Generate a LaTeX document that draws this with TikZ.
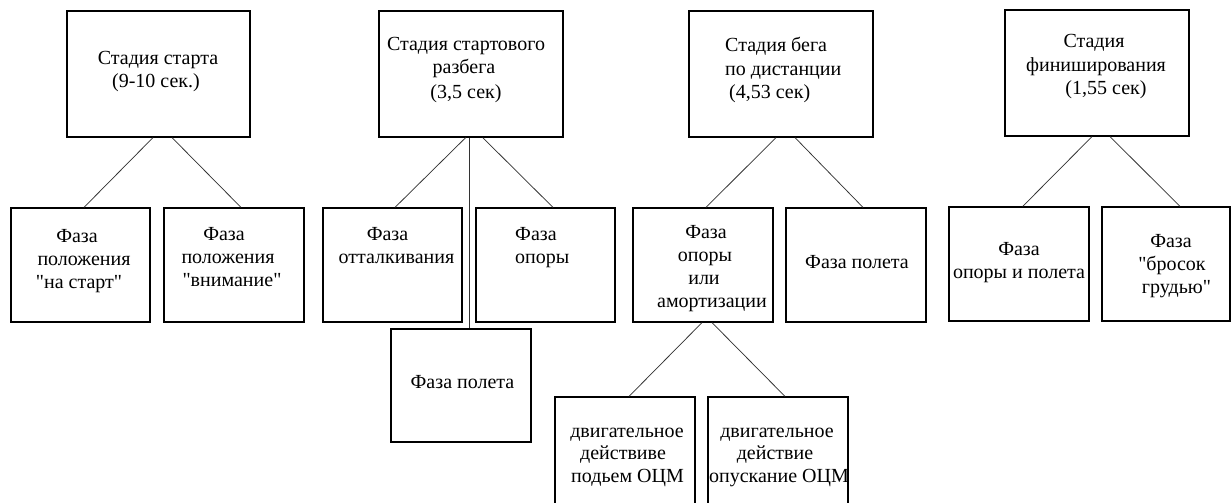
\documentclass[tikz,border=0pt]{standalone}
\usepackage{fontspec}
\setmainfont{Liberation Serif}[Ligatures=TeXOff]
\begin{document}
\begin{tikzpicture}[x=1pt,y=-1pt,
  box/.style={draw=black, line width=1.2pt, inner sep=0pt, fill=none},
  link/.style={draw=black!80, line width=0.75pt},
  txt/.style={anchor=base, inner sep=0pt, text=black,
    font=\fontsize{20}{23}\selectfont},
  txtl/.style={txt, anchor=base west}]
\useasboundingbox (0,0) rectangle (1231,503);
\clip (0,0) rectangle (1231,503);
\fill[white] (0,0) rectangle (1231,503);

% stages
\node[box, minimum width=183pt, minimum height=126pt] (b1) at (158.5,74) {};
\node[box, minimum width=184pt, minimum height=126pt] (b2) at (471,74) {};
\node[box, minimum width=184pt, minimum height=126pt] (b3) at (781,74) {};
\node[box, minimum width=184pt, minimum height=126pt] (b4) at (1097,73) {};

% phases
\node[box, minimum width=139pt, minimum height=114pt] (pA) at (80.5,265) {};
\node[box, minimum width=140pt, minimum height=114pt] (pB) at (234,265) {};
\node[box, minimum width=139pt, minimum height=114pt] (pC) at (392.5,265) {};
\node[box, minimum width=139pt, minimum height=114pt] (pD) at (545.5,265) {};
\node[box, minimum width=140pt, minimum height=114pt] (pE) at (703,265) {};
\node[box, minimum width=140pt, minimum height=114pt] (pF) at (856,265) {};
\node[box, minimum width=140pt, minimum height=114pt] (pG) at (1019,264) {};
\node[box, minimum width=128pt, minimum height=114pt] (pH) at (1166,264) {};
\node[box, minimum width=140pt, minimum height=113pt] (pK) at (461,385.5) {};

% motor actions
\node[box, minimum width=140pt, minimum height=114pt] (aI) at (625,454) {};
\node[box, minimum width=140pt, minimum height=114pt] (aJ) at (778,454) {};

% connectors
\draw[link] ([xshift=-5.5pt]b1.south) -- ([xshift=3.5pt]pA.north);
\draw[link] ([xshift=13.5pt]b1.south) -- ([xshift=7pt]pB.north);
\draw[link] ([xshift=-5.3pt]b2.south) -- ([xshift=2.5pt]pC.north);
\draw[link] ([xshift=-2pt]b2.south) -- ([xshift=8pt]pK.north);
\draw[link] ([xshift=11.7pt]b2.south) -- ([xshift=7.5pt]pD.north);
\draw[link] ([xshift=-5pt]b3.south) -- ([xshift=3pt]pE.north);
\draw[link] ([xshift=14pt]b3.south) -- ([xshift=7pt]pF.north);
\draw[link] ([xshift=-5pt]b4.south) -- ([xshift=3.7pt]pG.north);
\draw[link] ([xshift=13pt]b4.south) -- ([xshift=14pt]pH.north);
\draw[link] ([xshift=-1pt]pE.south) -- ([xshift=4pt]aI.north);
\draw[link] ([xshift=9pt]pE.south) -- ([xshift=7pt]aJ.north);

% stage labels
\node[txt] (t1a) at (158,64) {Стадия старта};
\node[txt] (t1b) at (156,87) {(9-10 сек.)};
\node[txt] (t2a) at (466,51) {Стадия стартового};
\node[txt] (t2b) at (464,74) {разбега};
\node[txt] (t2c) at (466,98) {(3,5 сек)};
\node[txtl] (t3a) at (725,52) {Стадия бега};
\node[txtl] (t3b) at (725,75) {по дистанции};
\node[txtl] (t3c) at (729,98) {(4,53 сек)};
\node[txt] (t4a) at (1094,48) {Стадия};
\node[txt] (t4b) at (1096,71) {финиширования};
\node[txt] (t4c) at (1106,94) {(1,55 сек)};

% phase labels
\node[txt] (tAa) at (77,242) {Фаза};
\node[txt] (tAb) at (84,265) {положения};
\node[txt] (tAc) at (79,288) {"на старт"};
\node[txt] (tBa) at (224,240) {Фаза};
\node[txt] (tBb) at (228,263) {положения};
\node[txt] (tBc) at (232,286) {"внимание"};
\node[txt] (tCa) at (387.5,240) {Фаза};
\node[txt] (tCb) at (396.5,263) {отталкивания};
\node[txtl] (tDa) at (515,240) {Фаза};
\node[txtl] (tDb) at (515,263) {опоры};
\node[txt] (tEa) at (706,238) {Фаза};
\node[txt] (tEb) at (705,261) {опоры};
\node[txt] (tEc) at (704,284) {или};
\node[txt] (tEd) at (712,307) {амортизации};
\node[txt] (tF) at (857,268) {Фаза полета};
\node[txt] (tGa) at (1019,255) {Фаза};
\node[txt] (tGb) at (1019,278) {опоры и полета};
\node[txt] (tHa) at (1171,247) {Фаза};
\node[txt] (tHb) at (1172,270) {"бросок};
\node[txt] (tHc) at (1176.5,293) {грудью"};
\node[txt] (tK) at (462.5,388) {Фаза полета};

% motor action labels
\node[txt] (tIa) at (627,437) {двигательное};
\node[txt] (tIb) at (623,459) {действиве};
\node[txt] (tIc) at (627.5,482) {подьем ОЦМ};
\node[txt] (tJa) at (777,437) {двигательное};
\node[txt] (tJb) at (775,459) {действие};
\node[txt] (tJc) at (779,482) {опускание ОЦМ};
\end{tikzpicture}
\end{document}
